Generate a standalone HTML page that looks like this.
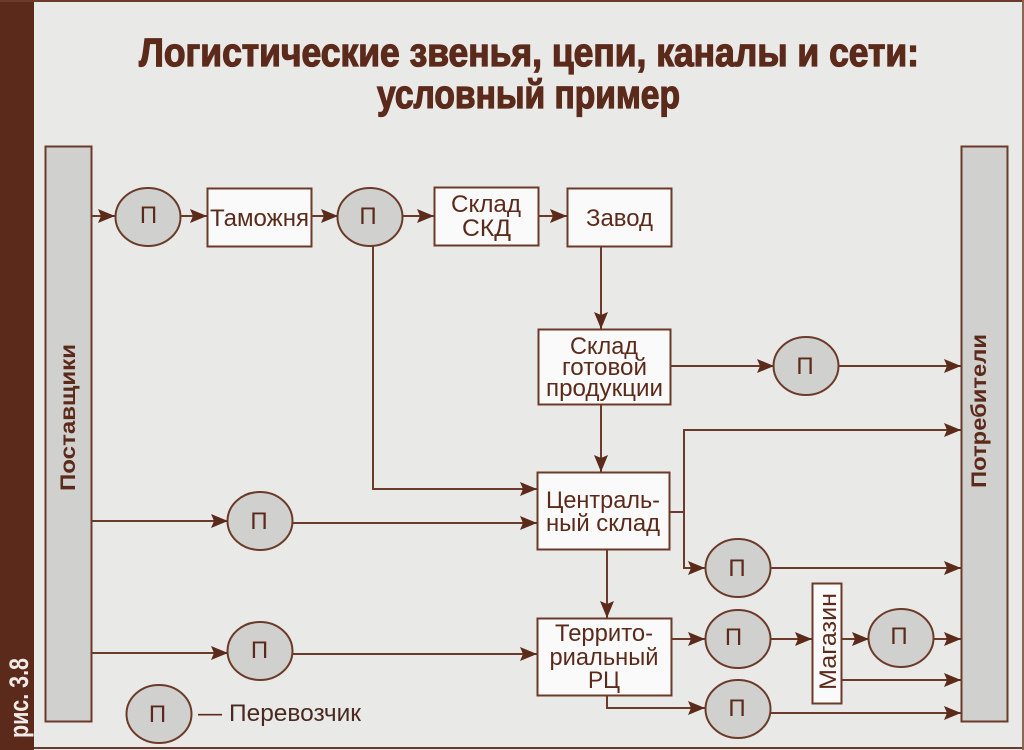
<!DOCTYPE html>
<html lang="ru"><head><meta charset="utf-8"><title>Логистические звенья</title>
<style>html,body{margin:0;padding:0;background:#e9e9e8}svg{display:block}text{font-family:"Liberation Sans",sans-serif;fill:#5c2a1a}</style></head>
<body>
<svg width="1024" height="750" viewBox="0 0 1024 750" xmlns="http://www.w3.org/2000/svg">
<defs>
<marker id="a" markerUnits="userSpaceOnUse" markerWidth="18" markerHeight="16" refX="17" refY="8" orient="auto"><path d="M0 1L17 8L0 15L3 8Z" fill="#5c2a1a"/></marker>
</defs>
<rect width="1024" height="750" fill="#e9e9e8"/>
<rect x="0" y="0" width="34" height="750" fill="#5c2a1a"/>
<rect x="0" y="0" width="1024" height="2" fill="#6b3a28"/>
<rect x="34" y="747" width="990" height="2" fill="#6b3a28"/>
<rect x="1022" y="0" width="2" height="750" fill="#8a6656"/>
<text transform="translate(28,738) rotate(-90)" font-size="27" font-weight="700" style="fill:#f0ebe6" textLength="80" lengthAdjust="spacingAndGlyphs">рис. 3.8</text>

<text x="139" y="66" font-size="40" font-weight="700" textLength="780" lengthAdjust="spacingAndGlyphs" stroke="#5c2a1a" stroke-width="1.300">Логистические звенья, цепи, каналы и сети:</text>
<text x="377" y="108" font-size="40" font-weight="700" textLength="303" lengthAdjust="spacingAndGlyphs" stroke="#5c2a1a" stroke-width="1.300">условный пример</text>

<g fill="#d0d0ce" stroke="#6b3a28" stroke-width="2">
<rect x="45.500" y="146.500" width="46" height="575"/>
<rect x="961.500" y="146.500" width="46" height="575"/>
</g>
<text transform="translate(75,491) rotate(-90)" font-size="21" font-weight="700" textLength="147" lengthAdjust="spacingAndGlyphs">Поставщики</text>
<text transform="translate(986,488) rotate(-90)" font-size="21" font-weight="700" textLength="154" lengthAdjust="spacingAndGlyphs">Потребители</text>

<g fill="none" stroke="#6b3a28" stroke-width="2" marker-end="url(#a)">
<path d="M92 216H115"/>
<path d="M180 216H207"/>
<path d="M312 216H338"/>
<path d="M403 216H434"/>
<path d="M539 216H567"/>
<path d="M601 246V329"/>
<path d="M671 366H774"/>
<path d="M838 366H961"/>
<path d="M601 405V472"/>
<path d="M373 246V489H537"/>
<path d="M92 521H228"/>
<path d="M293 523H537"/>
<path d="M670 512H684V430H961"/>
<path d="M670 512H684V568H705"/>
<path d="M770 568H961"/>
<path d="M607 550V618"/>
<path d="M92 653H228"/>
<path d="M293 654H537"/>
<path d="M671 639H705"/>
<path d="M770 639H812"/>
<path d="M842 639H869"/>
<path d="M933 639H961"/>
<path d="M842 680H961"/>
<path d="M607 695V708H705"/>
<path d="M770 713H961"/>
</g>

<g fill="#fafafa" stroke="#6b3a28" stroke-width="2">
<rect x="207.500" y="188.500" width="104" height="58"/>
<rect x="434.500" y="187.500" width="104" height="58"/>
<rect x="567.500" y="188.500" width="104" height="58"/>
<rect x="538.500" y="329.500" width="132" height="75"/>
<rect x="537.500" y="472.500" width="132" height="77"/>
<rect x="537.500" y="618.500" width="134" height="77"/>
<rect x="812.500" y="583.500" width="29" height="120"/>
</g>

<g fill="#d0d0ce" stroke="#6b3a28" stroke-width="2">
<ellipse cx="148" cy="217" rx="32.500" ry="29"/>
<ellipse cx="370" cy="217" rx="32.500" ry="29"/>
<ellipse cx="806" cy="366" rx="32.500" ry="29"/>
<ellipse cx="260" cy="521" rx="32.500" ry="29"/>
<ellipse cx="738" cy="568" rx="32.500" ry="29"/>
<ellipse cx="260" cy="651" rx="32.500" ry="29"/>
<ellipse cx="738" cy="639" rx="32.500" ry="29"/>
<ellipse cx="901" cy="638" rx="32.500" ry="29"/>
<ellipse cx="738" cy="709" rx="32.500" ry="29"/>
<ellipse cx="159" cy="714" rx="32.500" ry="29"/>
</g>

<g font-size="24" text-anchor="middle">
<text x="148.500" y="223">П</text>
<text x="368" y="224">П</text>
<text x="805" y="374">П</text>
<text x="259" y="529">П</text>
<text x="737" y="576">П</text>
<text x="259.500" y="658">П</text>
<text x="733.500" y="645">П</text>
<text x="899" y="644">П</text>
<text x="737" y="716">П</text>
<text x="157.500" y="722">П</text>
<text x="259.500" y="226" textLength="99" lengthAdjust="spacingAndGlyphs">Таможня</text>
<text x="486" y="212" textLength="70" lengthAdjust="spacingAndGlyphs">Склад</text>
<text x="486.500" y="236" textLength="49" lengthAdjust="spacingAndGlyphs">СКД</text>
<text x="619.500" y="226" textLength="67" lengthAdjust="spacingAndGlyphs">Завод</text>
<text x="604" y="354" textLength="68" lengthAdjust="spacingAndGlyphs">Склад</text>
<text x="604.500" y="375" textLength="85" lengthAdjust="spacingAndGlyphs">готовой</text>
<text x="604.500" y="396" textLength="117" lengthAdjust="spacingAndGlyphs">продукции</text>
<text x="603" y="508" textLength="114" lengthAdjust="spacingAndGlyphs">Централь-</text>
<text x="603" y="531" textLength="114" lengthAdjust="spacingAndGlyphs">ный склад</text>
<text x="604" y="641" textLength="98" lengthAdjust="spacingAndGlyphs">Террито-</text>
<text x="604" y="665" textLength="109" lengthAdjust="spacingAndGlyphs">риальный</text>
<text x="604" y="688" textLength="32" lengthAdjust="spacingAndGlyphs">РЦ</text>
</g>
<text transform="translate(836,690) rotate(-90)" font-size="24" textLength="97" lengthAdjust="spacingAndGlyphs">Магазин</text>
<text x="198" y="721" font-size="24" textLength="24" lengthAdjust="spacingAndGlyphs">—</text>
<text x="229" y="721" font-size="24" style="fill:#4a2a20" textLength="132" lengthAdjust="spacingAndGlyphs">Перевозчик</text>
</svg>
</body></html>
